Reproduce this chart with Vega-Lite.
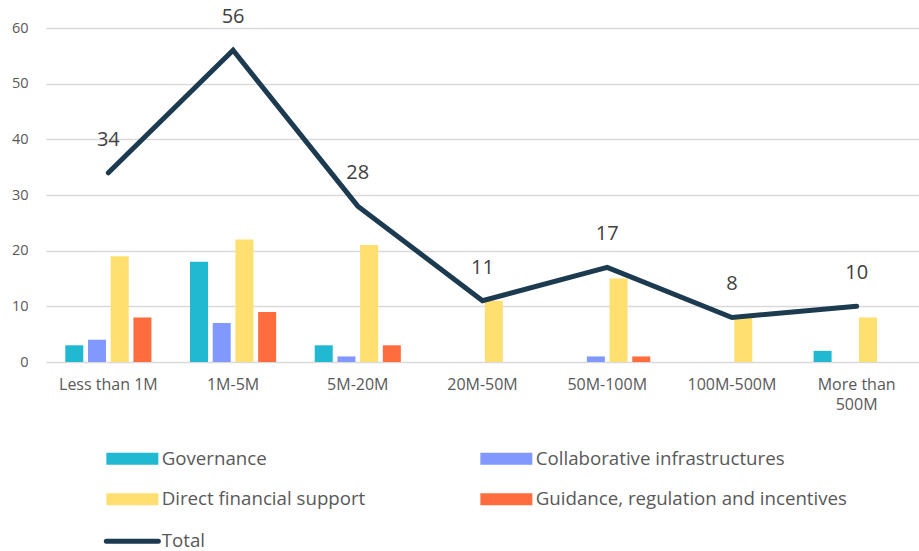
{
  "$schema": "https://vega.github.io/schema/vega-lite/v6.json",
  "width": 873,
  "height": 334,
  "autosize": {"type": "none"},
  "padding": {"left": 46, "top": 28, "right": 0, "bottom": 189},
  "background": "white",
  "config": {"font": "Open Sans", "view": {"stroke": null}},
  "data": {
    "values": [
      {"size": "Less than 1M", "series": "Governance", "value": 3},
      {"size": "Less than 1M", "series": "Collaborative infrastructures", "value": 4},
      {"size": "Less than 1M", "series": "Direct financial support", "value": 19},
      {"size": "Less than 1M", "series": "Guidance, regulation and incentives", "value": 8},
      {"size": "Less than 1M", "series": "Total", "value": 34},
      {"size": "1M-5M", "series": "Governance", "value": 18},
      {"size": "1M-5M", "series": "Collaborative infrastructures", "value": 7},
      {"size": "1M-5M", "series": "Direct financial support", "value": 22},
      {"size": "1M-5M", "series": "Guidance, regulation and incentives", "value": 9},
      {"size": "1M-5M", "series": "Total", "value": 56},
      {"size": "5M-20M", "series": "Governance", "value": 3},
      {"size": "5M-20M", "series": "Collaborative infrastructures", "value": 1},
      {"size": "5M-20M", "series": "Direct financial support", "value": 21},
      {"size": "5M-20M", "series": "Guidance, regulation and incentives", "value": 3},
      {"size": "5M-20M", "series": "Total", "value": 28},
      {"size": "20M-50M", "series": "Governance", "value": 0},
      {"size": "20M-50M", "series": "Collaborative infrastructures", "value": 0},
      {"size": "20M-50M", "series": "Direct financial support", "value": 11},
      {"size": "20M-50M", "series": "Guidance, regulation and incentives", "value": 0},
      {"size": "20M-50M", "series": "Total", "value": 11},
      {"size": "50M-100M", "series": "Governance", "value": 0},
      {"size": "50M-100M", "series": "Collaborative infrastructures", "value": 1},
      {"size": "50M-100M", "series": "Direct financial support", "value": 15},
      {"size": "50M-100M", "series": "Guidance, regulation and incentives", "value": 1},
      {"size": "50M-100M", "series": "Total", "value": 17},
      {"size": "100M-500M", "series": "Governance", "value": 0},
      {"size": "100M-500M", "series": "Collaborative infrastructures", "value": 0},
      {"size": "100M-500M", "series": "Direct financial support", "value": 8},
      {"size": "100M-500M", "series": "Guidance, regulation and incentives", "value": 0},
      {"size": "100M-500M", "series": "Total", "value": 8},
      {"size": "More than 500M", "series": "Governance", "value": 2},
      {"size": "More than 500M", "series": "Collaborative infrastructures", "value": 0},
      {"size": "More than 500M", "series": "Direct financial support", "value": 8},
      {"size": "More than 500M", "series": "Guidance, regulation and incentives", "value": 0},
      {"size": "More than 500M", "series": "Total", "value": 10}
    ]
  },
  "encoding": {
    "x": {
      "field": "size",
      "type": "nominal",
      "sort": ["Less than 1M", "1M-5M", "5M-20M", "20M-50M", "50M-100M", "100M-500M", "More than 500M"],
      "scale": {"paddingInner": 0, "paddingOuter": 0},
      "axis": {
        "title": null,
        "labelAngle": 0,
        "domain": false,
        "ticks": false,
        "labelFontSize": 16,
        "labelColor": "#595959",
        "labelPadding": 14,
        "labelLineHeight": 20,
        "labelLimit": 200,
        "labelExpr": "datum.value == 'More than 500M' ? ['More than', '500M'] : datum.value"
      }
    }
  },
  "layer": [
    {
      "transform": [{"filter": "datum.series != 'Total'"}],
      "mark": {"type": "bar"},
      "encoding": {
        "xOffset": {
          "field": "series",
          "type": "nominal",
          "sort": ["Governance", "Collaborative infrastructures", "Direct financial support", "Guidance, regulation and incentives"],
          "scale": {"paddingInner": 0.207, "paddingOuter": 0.85}
        },
        "y": {
          "field": "value",
          "type": "quantitative",
          "scale": {"domain": [0, 60]},
          "axis": {
            "title": null,
            "domain": false,
            "ticks": false,
            "values": [0, 10, 20, 30, 40, 50, 60],
            "gridColor": "#d9d9d9",
            "gridWidth": 1.5,
            "labelFontSize": 14.5,
            "labelColor": "#595959",
            "labelPadding": 18
          }
        },
        "color": {
          "field": "series",
          "type": "nominal",
          "scale": {
            "domain": ["Governance", "Collaborative infrastructures", "Direct financial support", "Guidance, regulation and incentives", "Total"],
            "range": ["#21b9d1", "#8098ff", "#ffdf6f", "#ff6d3f", "#1c3b50"]
          },
          "legend": {
            "title": null,
            "orient": "none",
            "direction": "horizontal",
            "legendX": 77,
            "legendY": 421,
            "columns": 2,
            "columnPadding": 114,
            "rowPadding": 21,
            "symbolSize": 676,
            "labelOffset": 20,
            "labelFontSize": 18.7,
            "labelColor": "#595959",
            "labelLimit": 400,
            "encode": {
              "symbols": {
                "update": {
                  "shape": {"signal": "datum.value == 'Total' ? 'M-2,0H2' : 'M-2,-0.46H2V0.46H-2Z'"},
                  "strokeWidth": {"signal": "datum.value == 'Total' ? 5 : 0"},
                  "stroke": {"signal": "scale('color', datum.value)"},
                  "fill": {"signal": "datum.value == 'Total' ? 'transparent' : scale('color', datum.value)"},
                  "strokeCap": {"value": "round"},
                  "opacity": {"value": 1}
                }
              }
            }
          }
        }
      }
    },
    {
      "transform": [{"filter": "datum.series == 'Total'"}],
      "mark": {"type": "line", "strokeWidth": 5, "strokeCap": "round", "strokeJoin": "miter"},
      "encoding": {
        "y": {"field": "value", "type": "quantitative"},
        "color": {"field": "series", "type": "nominal"}
      }
    },
    {
      "transform": [{"filter": "datum.series == 'Total'"}],
      "mark": {"type": "text", "dy": -33, "fontSize": 20, "color": "#404040"},
      "encoding": {
        "y": {"field": "value", "type": "quantitative"},
        "text": {"field": "value", "type": "quantitative"}
      }
    }
  ]
}
